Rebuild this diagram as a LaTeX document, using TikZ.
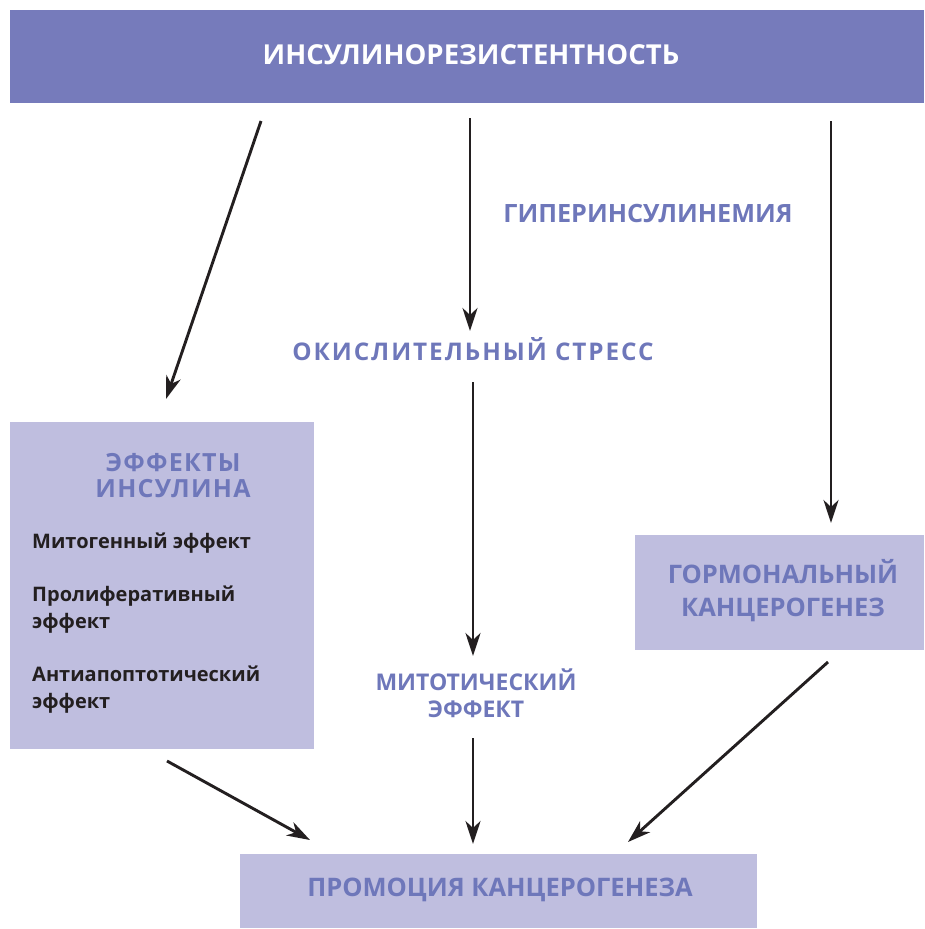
\documentclass[tikz,border=0pt]{standalone}
\usepackage{fontspec}
\setmainfont{Open Sans}
\usetikzlibrary{arrows.meta}
\definecolor{banner}{HTML}{767BBB}
\definecolor{boxfill}{HTML}{BFBEDF}
\definecolor{ttl}{HTML}{6E77BA}
\definecolor{ink}{HTML}{231F20}
\tikzset{
  arr/.style={draw=ink, line width=2.9pt, -{Stealth[length=23pt,width=15pt,inset=7pt]}},
  panel/.style={fill=boxfill, draw=none},
  ttltext/.style={text=ttl, font=\bfseries\fontsize{24}{27}\selectfont, align=center, inner sep=0pt},
  item/.style={text=ink, font=\bfseries\fontsize{20}{27}\selectfont, align=left, anchor=west, inner sep=0pt},
}
\begin{document}
\begin{tikzpicture}[x=1pt,y=-1pt]
\useasboundingbox (0,0) rectangle (924,929);
% banner
\fill[banner] (10,10) rectangle (924,103);
\node[text=white, font=\bfseries\fontsize{27.5}{30}\selectfont, inner sep=0pt] (top) at (471,55) {ИНСУЛИНОРЕЗИСТЕНТНОСТЬ};
% labels
\node[ttltext, font=\bfseries\fontsize{25.2}{27}\selectfont] (hyper) at (648,214) {ГИПЕРИНСУЛИНЕМИЯ};
\node[ttltext, font=\bfseries\fontsize{24.3}{27}\selectfont\addfontfeature{LetterSpace=8}] (oxi) at (473,349) {ОКИСЛИТЕЛЬНЫЙ СТРЕСС};
\node[ttltext, font=\bfseries\fontsize{23}{27}\selectfont] (mito) at (476,693) {МИТОТИЧЕСКИЙ\\ЭФФЕКТ};
% left panel
\fill[panel] (10,422) rectangle (314,749);
\node[ttltext, font=\bfseries\fontsize{25}{26}\selectfont\addfontfeature{LetterSpace=5}] (eff) at (173,476) {ЭФФЕКТЫ\\ИНСУЛИНА};
\node[item] (i1) at (32,543) {Митогенный эффект};
\node[item] (i2) at (32,609.5) {Пролиферативный\\эффект};
\node[item] (i3) at (32,689.5) {Антиапоптотический\\эффект};
% right panel
\fill[panel] (635,535) rectangle (924,650);
\node[ttltext, font=\bfseries\fontsize{25.5}{33}\selectfont] (horm) at (783,591) {ГОРМОНАЛЬНЫЙ\\КАНЦЕРОГЕНЕЗ};
% bottom panel
\fill[panel] (240,854) rectangle (757,928);
\node[ttltext, font=\bfseries\fontsize{25.5}{27}\selectfont] (prom) at (500,890) {ПРОМОЦИЯ КАНЦЕРОГЕНЕЗА};
% connector endpoints
\coordinate (s1) at (261,121); \coordinate (e1) at (166,399);
\coordinate (s2) at (470,118); \coordinate (e2) at (470,331);
\coordinate (s3) at (831,121); \coordinate (e3) at (831,523);
\coordinate (s4) at (473,382); \coordinate (e4) at (473,656);
\coordinate (s5) at (473,738); \coordinate (e5) at (473,844);
\coordinate (s6) at (167,761); \coordinate (e6) at (310,840);
\coordinate (s7) at (828,662); \coordinate (e7) at (628,842);
\draw[arr] (s1) -- (e1);
\draw[arr] (s2) -- (e2);
\draw[arr] (s3) -- (e3);
\draw[arr] (s4) -- (e4);
\draw[arr] (s5) -- (e5);
\draw[arr] (s6) -- (e6);
\draw[arr] (s7) -- (e7);
\end{tikzpicture}
\end{document}
